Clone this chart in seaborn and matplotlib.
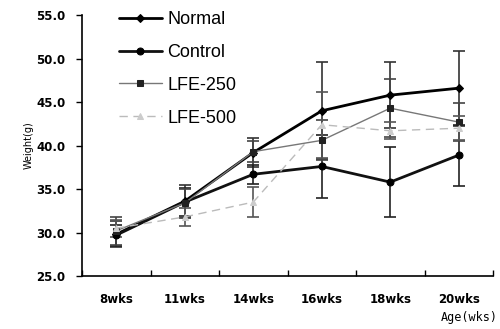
import matplotlib
matplotlib.use("Agg")
import matplotlib.pyplot as plt
import seaborn as sns
import pandas as pd
import numpy as np

weeks = ["8wks", "11wks", "14wks", "16wks", "18wks", "20wks"]
normal = [29.8, 33.6, 39.2, 44.0, 45.8, 46.6]
control = [29.7, 33.5, 36.7, 37.6, 35.8, 38.9]
lfe250 = [30.2, 33.4, 39.3, 40.6, 44.3, 42.7]
lfe500 = [30.5, 31.8, 33.5, 42.4, 41.7, 42.0]
normal_err = [1.5, 1.9, 1.7, 5.6, 3.8, 4.3]
control_err = [1.2, 1.6, 1.1, 3.6, 4.0, 3.5]
lfe250_err = [1.6, 1.6, 1.2, 2.3, 3.3, 2.2]
lfe500_err = [1.0, 1.0, 1.7, 3.8, 1.0, 1.4]
series = ["Normal", "Control", "LFE-250", "LFE-500"]

sns.set_theme(style="white")
plt.rcParams['font.family'] = ['DejaVu Sans']
plt.rcParams['text.color'] = 'black'
plt.rcParams['axes.labelcolor'] = 'black'
plt.rcParams['xtick.color'] = 'black'
plt.rcParams['ytick.color'] = 'black'

df = pd.DataFrame({
    "Age": weeks * 4,
    "Weight": normal + control + lfe250 + lfe500,
    "Group": sum([[s] * len(weeks) for s in series], []),
})

fig = plt.figure(figsize=(5.0, 3.29), dpi=100)
ax = fig.add_axes([0.164, 0.161, 0.822, 0.793])

styles = {
    "Normal": dict(color="#000000", lw=2.0, marker="D", ms=4, ls="-", mfc="#000000", mec="#000000"),
    "Control": dict(color="#111111", lw=2.0, marker="o", ms=5, ls="-", mfc="#000000", mec="#000000"),
    "LFE-250": dict(color="#777777", lw=1.0, marker="s", ms=5, ls="-", mfc="#222222", mec="#222222"),
    "LFE-500": dict(color="#bbbbbb", lw=1.0, marker="^", ms=5, ls=(0, (6, 4)), mfc="#cccccc", mec="#cccccc"),
}
errs = {"Normal": normal_err, "Control": control_err, "LFE-250": lfe250_err, "LFE-500": lfe500_err}
err_colors = {"Normal": "#333333", "Control": "#222222", "LFE-250": "#444444", "LFE-500": "#555555"}

x = np.arange(len(weeks))
for s in series:
    sub = df[df.Group == s]
    ax.errorbar(x, sub.Weight.values, yerr=errs[s], fmt="none", ecolor=err_colors[s],
                elinewidth=1.2, capsize=4, capthick=1.2, zorder=2)

for s in series:
    sub = df[df.Group == s]
    st = styles[s]
    sns.lineplot(x=x, y=sub.Weight.values, ax=ax, color=st["color"], lw=st["lw"],
                 linestyle=st["ls"], marker=st["marker"], markersize=st["ms"],
                 markerfacecolor=st["mfc"], markeredgecolor=st["mec"], label=s, zorder=3)

ax.set_xlim(-0.5, 5.5)
ax.set_ylim(25, 55)
ax.set_yticks(np.arange(25, 55.1, 5))
ax.set_yticklabels([f"{v:.1f}" for v in np.arange(25, 55.1, 5)], fontsize=8.5, fontweight="bold")
ax.set_xticks(x)
ax.set_xticklabels(weeks, fontsize=8.5, fontweight="bold")
ax.tick_params(axis="x", which="major", length=0, pad=12)
ax.set_xticks(np.arange(-0.5, 5.6, 1), minor=True)
ax.tick_params(axis="x", which="minor", direction="in", length=4, width=1, color="black", bottom=True)
ax.tick_params(axis="y", which="major", direction="out", length=4, width=1, color="black", left=True, pad=8)

for sp in ["top", "right"]:
    ax.spines[sp].set_visible(False)
for sp in ["left", "bottom"]:
    ax.spines[sp].set_color("black")
    ax.spines[sp].set_linewidth(1.2)

ax.set_ylabel("Weight(g)", fontsize=7, labelpad=2)
ax.set_xlabel("")
fig.text(0.995, 0.015, "Age(wks)", fontsize=8.5, family="DejaVu Sans Mono", ha="right", va="bottom")

leg = ax.legend(loc="upper left", bbox_to_anchor=(0.05, 1.078), frameon=False,
                prop={"family": "Liberation Sans", "size": 13},
                handlelength=2.4, labelspacing=0.88, handletextpad=0.3)
for t in leg.get_texts():
    t.set_color("black")

fig.savefig("out.png", dpi=100, facecolor="white")
